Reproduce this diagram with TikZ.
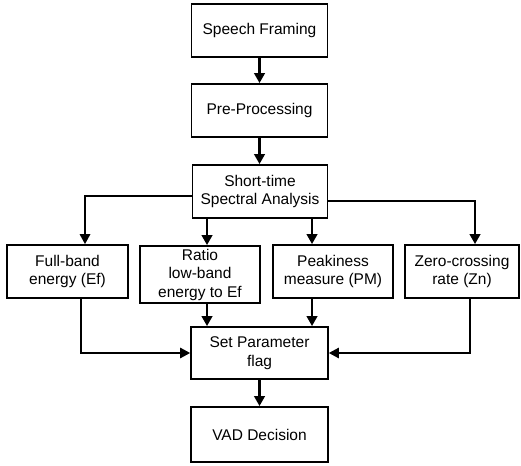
\documentclass[tikz,border=0pt]{standalone}
\usepackage{fontspec}
\setmainfont{Liberation Sans}
\usetikzlibrary{arrows.meta}
\begin{document}
\begin{tikzpicture}[x=1pt,y=-1pt,
  box/.style={draw,line width=1.8pt,align=center,inner sep=0pt,
    font=\fontsize{15.5}{18.5}\selectfont},
  arr/.style={line width=2.4pt,-{Triangle[width=10.5pt,length=10pt]}},
  thinarr/.style={line width=1.3pt,-{Triangle[width=10.5pt,length=10pt]}}]
\useasboundingbox[fill=white] (0,0) rectangle (521,465);
\node[box,minimum width=136pt,minimum height=53pt] (sf) at (259.5,30.5) {Speech Framing};
\node[box,minimum width=136pt,minimum height=53pt] (pp) at (259.5,110.5) {Pre-Processing};
\node[box,minimum width=135pt,minimum height=53pt] (ssa) at (260,191.5) {Short-time\\Spectral Analysis};
\node[box,minimum width=121pt,minimum height=53pt] (fb) at (67.5,271.5) {Full-band\\energy (Ef)};
\node[box,minimum width=120pt,minimum height=57pt] (ratio) at (200,274.5) {Ratio\\low-band\\energy to Ef};
\node[box,minimum width=120pt,minimum height=53pt] (pm) at (333,271.5) {Peakiness\\measure (PM)};
\node[box,minimum width=114pt,minimum height=53pt] (zc) at (462,271.5) {Zero-crossing\\rate (Zn)};
\node[box,minimum width=137pt,minimum height=52pt] (spf) at (259.5,353) {Set Parameter\\flag};
\node[box,minimum width=137pt,minimum height=55pt] (vad) at (259.5,434.5) {VAD Decision};
\coordinate (cL) at (85,196);
\coordinate (cR) at (475,201);
\coordinate (c1) at (207,0);
\coordinate (c2) at (312,0);
\coordinate (c3) at (81,0);
\coordinate (c4) at (470,0);
\coordinate (cM) at (259.5,0);
\draw[arr] (sf.south -| cM) -- (pp.north -| cM);
\draw[arr] (pp.south -| cM) -- (ssa.north -| cM);
\draw[line width=1.6pt,-{Triangle[width=10.5pt,length=10pt]}] (ssa.west |- cL) -| (fb.north -| cL);
\draw[arr] (ssa.east |- cR) -| (zc.north -| cR);
\draw[arr] (ssa.south -| c1) -- (ratio.north -| c1);
\draw[arr] (ssa.south -| c2) -- (pm.north -| c2);
\draw[thinarr] (fb.south -| c3) |- (spf.west);
\draw[thinarr] (zc.south -| c4) |- (spf.east);
\draw[arr] (ratio.south -| c1) -- (spf.north -| c1);
\draw[arr] (pm.south -| c2) -- (spf.north -| c2);
\draw[arr] (spf.south -| cM) -- (vad.north -| cM);
\end{tikzpicture}
\end{document}
